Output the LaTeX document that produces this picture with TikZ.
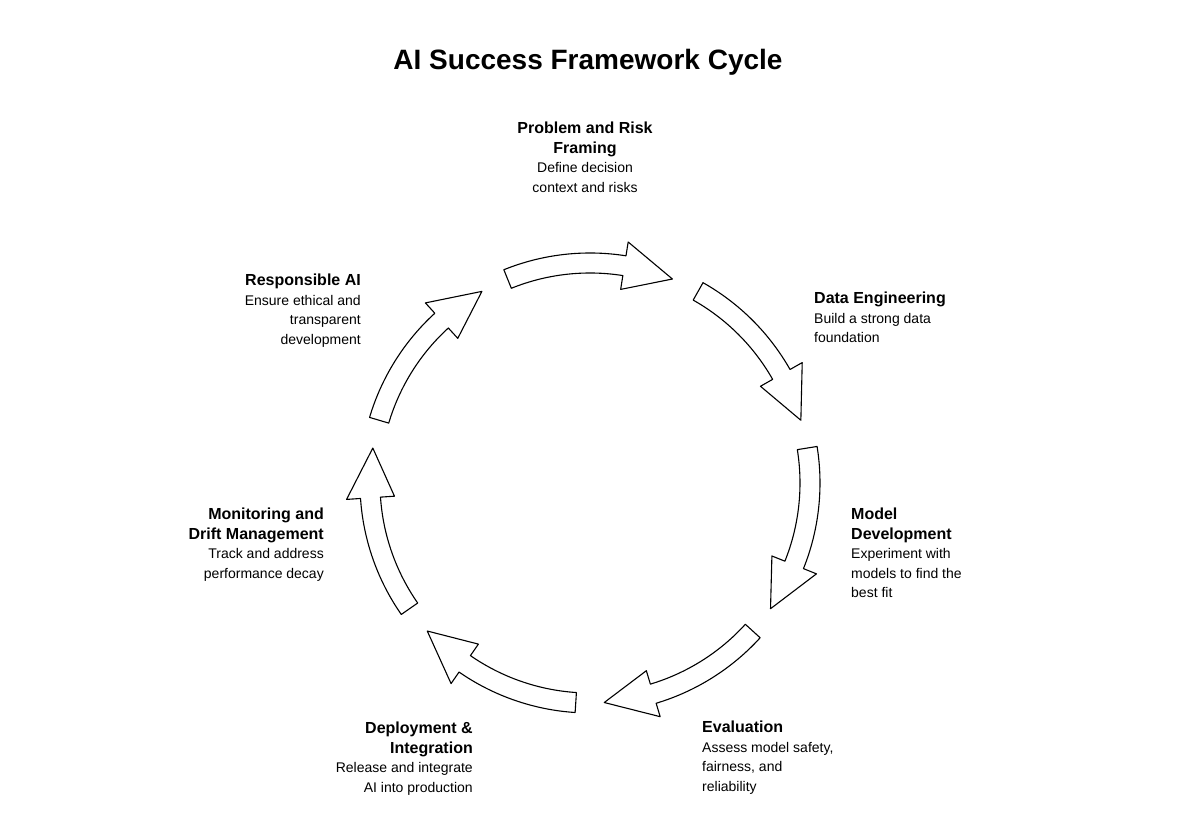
\documentclass[tikz,border=0pt]{standalone}
\usepackage{fontspec}
\setmainfont{Liberation Sans}
\newcommand\hdf{\fontsize{16}{20}\selectfont\bfseries}
\begin{document}
\begin{tikzpicture}[x=1pt,y=1pt,
  blk/.style={draw=black,fill=white,line width=1.1pt,line join=round},
  lbl/.style={inner sep=0pt,font=\fontsize{14}{19.5}\selectfont}]
\useasboundingbox (0,0) rectangle (1199,840);
\def\Ri{210}\def\Ro{230}\def\Rm{220}\def\Rhi{196}\def\Rho{244}\def\H{13}
\begin{scope}[shift={(590,357)}]
\foreach \c [count=\i] in {90,38.57,-12.86,-64.29,-115.71,-167.14,141.43}{
  \pgfmathsetmacro{\aa}{\c+22}
  \pgfmathsetmacro{\ab}{\c-22}
  \pgfmathsetmacro{\ah}{\c-22+\H}
  \draw[blk] (\aa:\Ro) arc[start angle=\aa,end angle=\ah,radius=\Ro]
     -- (\ah:\Rho) -- (\ab:\Rm) -- (\ah:\Rhi) -- (\ah:\Ri)
     arc[start angle=\ah,end angle=\aa,radius=\Ri] -- cycle;
}
\end{scope}
\node[inner sep=0pt,font=\fontsize{28}{32}\selectfont\bfseries] (title) at (588,840-62) {AI Success Framework Cycle};
\node[lbl,align=center,anchor=north] (p) at (585,840-122) {{\hdf Problem and Risk}\\{\hdf Framing}\\Define decision\\context and risks};
\node[lbl,align=left,anchor=north west] (d) at (814,840-292) {{\hdf Data Engineering}\\Build a strong data\\foundation};
\node[lbl,align=left,anchor=north west] (m) at (851,840-508) {{\hdf Model}\\{\hdf Development}\\Experiment with\\models to find the\\best fit};
\node[lbl,align=left,anchor=north west] (e) at (702,840-721) {{\hdf Evaluation}\\Assess model safety,\\fairness, and\\reliability};
\node[lbl,align=right,anchor=north east] (dep) at (473,840-722) {{\hdf Deployment \&}\\{\hdf Integration}\\Release and integrate\\AI into production};
\node[lbl,align=right,anchor=north east] (mon) at (324,840-508) {{\hdf Monitoring and}\\{\hdf Drift Management}\\Track and address\\performance decay};
\node[lbl,align=right,anchor=north east] (r) at (361,840-274) {{\hdf Responsible AI}\\Ensure ethical and\\transparent\\development};
\end{tikzpicture}
\end{document}
